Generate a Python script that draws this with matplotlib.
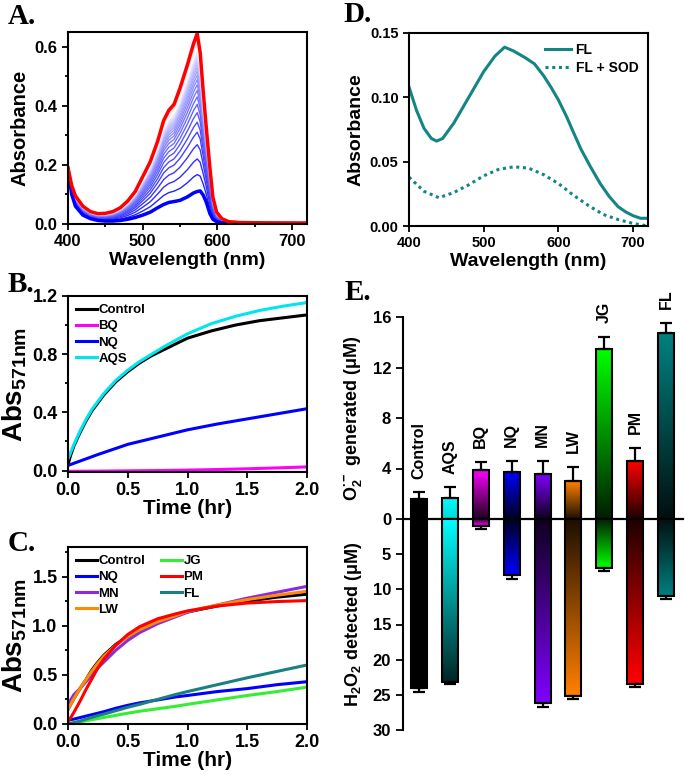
import numpy as np
import matplotlib
matplotlib.use("Agg")
import matplotlib.pyplot as plt
from matplotlib.colors import to_rgb

plt.rcParams['font.family'] = ['Liberation Sans', 'DejaVu Sans']
plt.rcParams['font.weight'] = 'bold'
plt.rcParams['axes.labelweight'] = 'bold'
plt.rcParams['mathtext.fontset'] = 'custom'
plt.rcParams['mathtext.rm'] = 'Liberation Sans:bold'
plt.rcParams['mathtext.bf'] = 'Liberation Sans:bold'
plt.rcParams['mathtext.it'] = 'Liberation Sans:bold'
plt.rcParams['axes.linewidth'] = 1.5

# ---------------- Panel A data ----------------
wl_a = [400, 405, 410, 420, 430, 440, 450, 460, 470, 480, 490, 500, 510, 520, 528, 535, 542,
        550, 560, 568, 573, 577, 581, 585, 590, 594, 599, 606, 615, 630, 660, 720]
abs_final = [0.19, 0.13, 0.095, 0.06, 0.042, 0.035, 0.036, 0.042, 0.055, 0.078, 0.11, 0.16, 0.21,
             0.28, 0.35, 0.385, 0.405, 0.46, 0.54, 0.61, 0.645, 0.58, 0.45, 0.33, 0.19, 0.09, 0.04,
             0.018, 0.008, 0.005, 0.004, 0.003]
abs_initial = [0.185, 0.10, 0.06, 0.03, 0.018, 0.012, 0.010, 0.010, 0.012, 0.016, 0.022, 0.030,
               0.040, 0.055, 0.066, 0.073, 0.076, 0.080, 0.092, 0.105, 0.110, 0.112, 0.098, 0.075,
               0.035, 0.016, 0.008, 0.004, 0.003, 0.003, 0.002, 0.002]
peak_heights = [0.113, 0.17, 0.223, 0.271, 0.313, 0.347, 0.379, 0.407, 0.432, 0.454, 0.473, 0.49,
                0.505, 0.519, 0.531, 0.542, 0.552, 0.562, 0.571, 0.580, 0.589, 0.597, 0.605,
                0.613, 0.620, 0.627, 0.634, 0.640, 0.646]

# ---------------- Panel B data ----------------
t_b = [0, 0.02, 0.05, 0.1, 0.15, 0.2, 0.3, 0.4, 0.5, 0.6, 0.7, 0.8, 1.0, 1.2, 1.4, 1.6, 1.8, 2.0]
b_control = [0.04, 0.10, 0.17, 0.26, 0.34, 0.41, 0.52, 0.61, 0.68, 0.74, 0.79, 0.83, 0.91, 0.96,
             1.00, 1.03, 1.05, 1.07]
b_aqs = [0.08, 0.12, 0.18, 0.27, 0.35, 0.42, 0.53, 0.62, 0.69, 0.75, 0.80, 0.85, 0.94, 1.01, 1.06,
         1.10, 1.13, 1.155]
t_b2 = [0, 0.25, 0.5, 0.75, 1.0, 1.25, 1.5, 1.75, 2.0]
b_nq = [0.035, 0.11, 0.18, 0.23, 0.28, 0.32, 0.355, 0.39, 0.425]
b_bq = [-0.005, -0.004, -0.002, 0.0, 0.003, 0.007, 0.012, 0.018, 0.025]

# ---------------- Panel C data ----------------
t_c = [0, 0.05, 0.1, 0.15, 0.2, 0.25, 0.3, 0.4, 0.5, 0.6, 0.75, 0.9, 1.0, 1.25, 1.5, 1.75, 2.0]
c_control = [0.15, 0.26, 0.36, 0.45, 0.55, 0.63, 0.70, 0.81, 0.89, 0.96, 1.04, 1.10, 1.14, 1.20,
             1.25, 1.29, 1.32]
c_lw = [0.15, 0.26, 0.36, 0.45, 0.54, 0.62, 0.69, 0.80, 0.89, 0.96, 1.04, 1.10, 1.146, 1.21,
        1.265, 1.31, 1.35]
c_pm = [0.02, 0.12, 0.23, 0.35, 0.46, 0.57, 0.66, 0.80, 0.91, 0.99, 1.07, 1.12, 1.15, 1.20, 1.23,
        1.245, 1.255]
c_mn = [0.20, 0.30, 0.36, 0.43, 0.50, 0.57, 0.63, 0.75, 0.85, 0.93, 1.02, 1.09, 1.136, 1.21, 1.28,
        1.34, 1.40]
c_nq = [0.04, 0.05, 0.065, 0.08, 0.095, 0.11, 0.125, 0.16, 0.19, 0.215, 0.245, 0.275, 0.29, 0.33,
        0.36, 0.40, 0.43]
c_jg = [0.0, 0.01, 0.02, 0.033, 0.044, 0.055, 0.066, 0.088, 0.11, 0.13, 0.155, 0.18, 0.20, 0.245,
        0.29, 0.33, 0.375]
c_fl = [0.0, 0.015, 0.03, 0.05, 0.068, 0.085, 0.10, 0.135, 0.17, 0.20, 0.25, 0.30, 0.33, 0.40,
        0.47, 0.535, 0.60]

# ---------------- Panel D data ----------------
wl_d = [400, 410, 420, 430, 437, 445, 460, 480, 500, 515, 528, 540, 555, 568, 580, 590, 600, 611,
        620, 630, 643, 656, 668, 680, 690, 700, 710, 720]
d_fl = [0.108, 0.090, 0.076, 0.068, 0.066, 0.068, 0.080, 0.100, 0.120, 0.132, 0.139, 0.136, 0.131,
        0.126, 0.117, 0.108, 0.098, 0.085, 0.073, 0.060, 0.046, 0.033, 0.023, 0.015, 0.011, 0.008,
        0.006, 0.006]
wl_d2 = [400, 420, 440, 460, 480, 500, 520, 540, 560, 580, 600, 620, 640, 660, 680, 700, 720]
d_fl_sod = [0.038, 0.027, 0.022, 0.026, 0.032, 0.039, 0.044, 0.046, 0.045, 0.040, 0.033, 0.024,
            0.016, 0.009, 0.005, 0.002, 0.0]

# ---------------- Panel E data ----------------
e_names = ['Control', 'AQS', 'BQ', 'NQ', 'MN', 'LW', 'JG', 'PM', 'FL']
o2_vals = [1.6, 1.7, 3.9, 3.7, 3.6, 3.0, 13.5, 4.6, 14.7]
o2_err = [0.5, 0.8, 0.6, 0.9, 1.0, 1.1, 0.9, 1.0, 0.8]
h2o2_vals = [24.0, 23.2, 1.0, 8.0, 26.1, 25.1, 7.0, 23.5, 11.0]
h2o2_err = [0.6, 0.3, 0.4, 0.6, 0.7, 0.5, 0.4, 0.4, 0.4]
e_colors = ['#000000', '#00ffff', '#ff00ff', '#0000ff', '#8000ff', '#ff8000', '#00ff00',
            '#ff0000', '#008080']

W, H = 685, 775
fig = plt.figure(figsize=(W / 100, H / 100), dpi=100)


def px_axes(l, t, r, b):
    return fig.add_axes([l / W, 1 - b / H, (r - l) / W, (b - t) / H])


def style(ax, size=11.5):
    ax.tick_params(axis='both', which='both', direction='out', width=1.3, labelsize=size)
    ax.tick_params(which='major', length=4)
    ax.tick_params(which='minor', length=2.5)
    for lab in ax.get_xticklabels() + ax.get_yticklabels():
        lab.set_fontweight('bold')


# ---- A ----
axA = px_axes(68, 32, 307, 224)
ini = np.array(abs_initial)
fin = np.array(abs_final)
n = len(peak_heights)
for i, p in enumerate(peak_heights[1:-1], start=1):
    f = (p - peak_heights[0]) / (peak_heights[-1] - peak_heights[0])
    col = plt.cm.bwr(0.05 + 0.58 * i / (n - 1))
    axA.plot(wl_a, ini + f * (fin - ini), color=col, lw=1.0)
axA.plot(wl_a, abs_initial, color='#0000ff', lw=2.5)
axA.plot(wl_a, abs_final, color='#ff0000', lw=2.5)
axA.set_xlim(400, 720)
axA.set_ylim(0, 0.65)
axA.set_xticks([400, 500, 600, 700])
axA.set_xticks([450, 550, 650], minor=True)
axA.set_yticks([0.0, 0.2, 0.4, 0.6])
axA.set_yticks([0.1, 0.3, 0.5], minor=True)
axA.set_yticklabels(['0.0', '0.2', '0.4', '0.6'])
axA.set_xlabel('Wavelength (nm)', fontsize=14, labelpad=2)
axA.set_ylabel('Absorbance', fontsize=14.5, labelpad=4)
style(axA, 12)

# ---- B ----
axB = px_axes(68, 296, 307, 472)
axB.plot(t_b, b_control, color='black', lw=2.2, label='Control')
axB.plot(t_b2, b_bq, color='#ff00ff', lw=2.2, label='BQ')
axB.plot(t_b2, b_nq, color='#0000ff', lw=2.2, label='NQ')
axB.plot(t_b, b_aqs, color='#00e5ee', lw=2.2, label='AQS')
axB.set_xlim(0, 2.0)
axB.set_ylim(-0.01, 1.2)
axB.set_xticks([0, 0.5, 1.0, 1.5, 2.0])
axB.set_xticklabels(['0.0', '0.5', '1.0', '1.5', '2.0'])
axB.set_yticks([0, 0.4, 0.8, 1.2])
axB.set_yticklabels(['0.0', '0.4', '0.8', '1.2'])
axB.set_yticks([0.2, 0.6, 1.0], minor=True)
axB.set_xlabel('Time (hr)', fontsize=15, labelpad=0)
axB.set_ylabel(r'Abs$_{\mathbf{571nm}}$', fontsize=20, labelpad=2)
axB.legend(loc='upper left', frameon=False, handlelength=1.6, handletextpad=0.1,
           labelspacing=0.3, borderaxespad=0.2, prop={'weight': 'bold', 'size': 9.5})
style(axB, 13)

# ---- C ----
axC = px_axes(68, 547, 307, 724)
axC.plot(t_c, c_control, color='black', lw=2.2, label='Control')
axC.plot(t_c, c_nq, color='#0000ff', lw=2.2, label='NQ')
axC.plot(t_c, c_mn, color='#8a2be2', lw=2.2, label='MN')
axC.plot(t_c, c_lw, color='#ff8c00', lw=2.2, label='LW')
axC.plot(t_c, c_jg, color='#33ee33', lw=2.2, label='JG')
axC.plot(t_c, c_pm, color='#ff0000', lw=2.2, label='PM')
axC.plot(t_c, c_fl, color='#1a8080', lw=2.2, label='FL')
axC.set_xlim(0, 2.0)
axC.set_ylim(0, 1.8)
axC.set_xticks([0, 0.5, 1.0, 1.5, 2.0])
axC.set_xticklabels(['0.0', '0.5', '1.0', '1.5', '2.0'])
axC.set_yticks([0, 0.5, 1.0, 1.5])
axC.set_yticklabels(['0.0', '0.5', '1.0', '1.5'])
axC.set_yticks([0.25, 0.75, 1.25, 1.75], minor=True)
axC.set_xlabel('Time (hr)', fontsize=15, labelpad=0)
axC.set_ylabel(r'Abs$_{\mathbf{571nm}}$', fontsize=20, labelpad=2)
axC.legend(loc='upper left', frameon=False, ncol=2, handlelength=1.6, handletextpad=0.1,
           labelspacing=0.3, columnspacing=1.2, borderaxespad=0.2,
           prop={'weight': 'bold', 'size': 9.5})
style(axC, 13)

# ---- D ----
axD = px_axes(409, 33, 648, 226)
axD.plot(wl_d, d_fl, color='#138585', lw=2.2, label='FL')
axD.plot(wl_d2, d_fl_sod, color='#138585', lw=2.2, ls=(0, (1, 1.2)), label='FL + SOD')
axD.set_xlim(400, 720)
axD.set_ylim(0, 0.15)
axD.set_xticks([400, 500, 600, 700])
axD.set_yticks([0, 0.05, 0.10, 0.15])
axD.set_yticklabels(['0.00', '0.05', '0.10', '0.15'])
axD.set_xlabel('Wavelength (nm)', fontsize=14, labelpad=2)
axD.set_ylabel('Absorbance', fontsize=14, labelpad=4)
axD.legend(loc='upper right', frameon=False, handlelength=1.9, handletextpad=0.3,
           labelspacing=0.3, borderaxespad=0.3, prop={'weight': 'bold', 'size': 10})
style(axD, 10.5)

# ---- E ----
axU = px_axes(403, 317, 683, 519)
axL = px_axes(403, 519, 683, 730)
xs = np.arange(len(e_names))
bw = 0.52
grad_n = 64


def grad_bar(ax, x, v, c_zero, c_end):
    c0 = np.array(c_zero)
    c1 = np.array(c_end)
    s = np.linspace(0, 1, grad_n)[:, None]
    img = (c0[None, :] * (1 - s) + c1[None, :] * s)[:, None, :]
    ax.imshow(img, extent=(x - bw / 2, x + bw / 2, 0, v), origin='lower', aspect='auto',
              interpolation='bilinear', zorder=1)


for i, (name, col) in enumerate(zip(e_names, e_colors)):
    c = np.array(to_rgb(col))
    dark = c * 0.12
    if name == 'AQS':
        grad_bar(axU, xs[i], o2_vals[i], c * 0.85, c)
        grad_bar(axL, xs[i], h2o2_vals[i], c, c * 0.15)
    else:
        grad_bar(axU, xs[i], o2_vals[i], dark, c)
        grad_bar(axL, xs[i], h2o2_vals[i], dark, c)

axU.bar(xs, o2_vals, width=bw, facecolor='none', edgecolor='black', lw=1.5, zorder=2)
axU.errorbar(xs, o2_vals, yerr=[np.zeros(len(xs)), o2_err], fmt='none', ecolor='black',
             elinewidth=1.6, capsize=4, capthick=1.6, zorder=3)
axL.bar(xs, h2o2_vals, width=bw, facecolor='none', edgecolor='black', lw=1.5, zorder=2)
axL.errorbar(xs, h2o2_vals, yerr=[np.zeros(len(xs)), h2o2_err], fmt='none', ecolor='black',
             elinewidth=1.6, capsize=4, capthick=1.6, zorder=3)

for i, name in enumerate(e_names):
    axU.annotate(name, (xs[i], o2_vals[i] + o2_err[i]), xytext=(0, 10),
                 textcoords='offset points', rotation=90, ha='center', va='bottom',
                 fontsize=11.5, fontweight='bold', annotation_clip=False)

for ax in (axU, axL):
    ax.set_xlim(-0.52, 8.55)
    ax.set_xticks([])
    for s in ('top', 'right', 'bottom'):
        ax.spines[s].set_visible(False)
    ax.patch.set_alpha(0)

axU.set_ylim(0, 16)
axU.set_yticks([0, 4, 8, 12, 16])
axL.set_ylim(30, 0)
axL.set_yticks([5, 10, 15, 20, 25, 30])
axU.axhline(0, color='black', lw=1.6, zorder=4, clip_on=False)
axU.set_ylabel(r'O$_{\mathbf{2}}^{\bullet -}$ generated (μM)', fontsize=13, labelpad=6)
axL.set_ylabel(r'H$_{\mathbf{2}}$O$_{\mathbf{2}}$ detected (μM)', fontsize=13, labelpad=6)
style(axU, 12)
style(axL, 12)
axU.tick_params(length=5)
axL.tick_params(length=5)

# panel letters
for lab, x, y in [('A.', 8, 3), ('B.', 8, 271), ('C.', 8, 530), ('D.', 343, 1), ('E.', 345, 279)]:
    fig.text(x / W, 1 - y / H, lab, fontsize=21, fontweight='bold', va='top', ha='left',
             family=['Liberation Serif', 'DejaVu Serif'])

fig.savefig('out.png', dpi=100)
